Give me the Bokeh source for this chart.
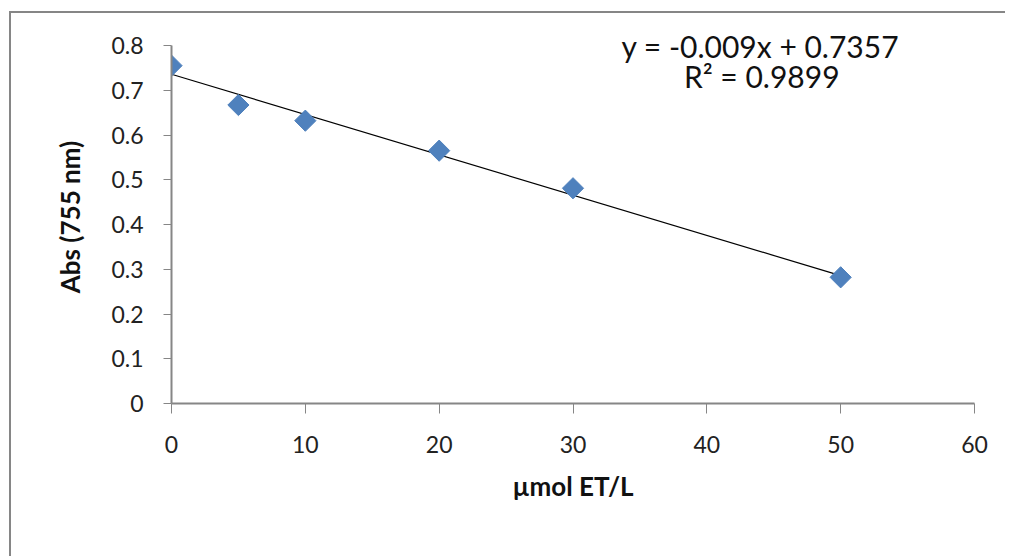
from bokeh.plotting import figure
from bokeh.models import Range1d, FixedTicker, Label
from bokeh.embed import file_html
from bokeh.resources import INLINE

# data
conc = [0, 5, 10, 20, 30, 50]
absorb = [0.755, 0.667, 0.632, 0.565, 0.481, 0.282]
slope = -0.009
intercept = 0.7357
x_ticks = [0, 10, 20, 30, 40, 50, 60]
y_ticks = [0, 0.1, 0.2, 0.3, 0.4, 0.5, 0.6, 0.7, 0.8]
eq_text = "y = -0.009x + 0.7357"
r2_text = "R² = 0.9899"

FONT = "Lato"
GRAY = "#868686"

ML, MT = 11, 13
W = 1012 - ML
H = 558 - MT

# pixel layout (page coordinates)
X0_PX, X60_PX = 171, 974
Y0_PX, Y08_PX = 403, 45
FRAME_TOP_PX = 30
px_per_unit = (Y0_PX - Y08_PX) / 0.8
y_top = 0.8 + (Y08_PX - FRAME_TOP_PX) / px_per_unit

p = figure(width=W, height=H, output_backend="svg", toolbar_location=None,
           x_range=Range1d(0, 60), y_range=Range1d(0, y_top),
           min_border_left=X0_PX - ML, min_border_right=1012 - X60_PX,
           min_border_top=FRAME_TOP_PX - MT, min_border_bottom=558 - Y0_PX)
p.margin = (MT, 0, 0, ML)
p.styles = {"box-shadow": f"-2px -2px 0px 0px {GRAY}",
            "clip-path": "inset(-3px 7px -3px -3px)"}
p.outline_line_color = None
p.xgrid.visible = False
p.ygrid.visible = False

for ax in (p.xaxis[0], p.yaxis[0]):
    ax.axis_line_color = GRAY
    ax.axis_line_width = 2
    ax.major_tick_line_color = GRAY
    ax.major_tick_line_width = 1
    ax.minor_tick_line_color = None
    ax.major_tick_in = 0
    ax.major_label_text_font = FONT
    ax.major_label_text_font_size = "23px"
    ax.major_label_text_color = "#222222"
    ax.axis_label_text_font = FONT
    ax.axis_label_text_font_style = "bold"
    ax.axis_label_text_font_size = "26px"
    ax.axis_label_text_color = "#111111"

p.yaxis.bounds = (0, 0.8)
p.xaxis.ticker = FixedTicker(ticks=x_ticks)
p.yaxis.ticker = FixedTicker(ticks=y_ticks)
p.xaxis.major_label_overrides = {t: str(t) for t in x_ticks}
p.yaxis.major_label_overrides = {t: ("0" if t == 0 else f"{t:.1f}") for t in y_ticks}
p.xaxis.major_tick_out = 10
p.yaxis.major_tick_out = 8
p.xaxis.major_label_standoff = 22
p.yaxis.major_label_standoff = 20
p.xaxis.axis_label = "µmol ET/L"
p.yaxis.axis_label = "Abs (755 nm)"
p.xaxis.axis_label_standoff = 14
p.yaxis.axis_label_standoff = 22

# trendline
tx = [conc[0], conc[-1]]
ty = [slope * v + intercept for v in tx]
p.line(tx, ty, line_color="black", line_width=1.2)

p.scatter(conc, absorb, marker="square", angle=0.785398, size=15,
          fill_color="#4F81BD", line_color="#4F81BD")

p.add_layout(Label(x=44.0, y=0.8, text=eq_text, text_align="center", text_baseline="middle",
                   text_font=FONT, text_font_size="30px", text_color="#111111"))
p.add_layout(Label(x=44.1, y=0.731, text=r2_text, text_align="center", text_baseline="middle",
                   text_font=FONT, text_font_size="30px", text_color="#111111"))

open("out.html", "w").write(file_html(p, INLINE))
